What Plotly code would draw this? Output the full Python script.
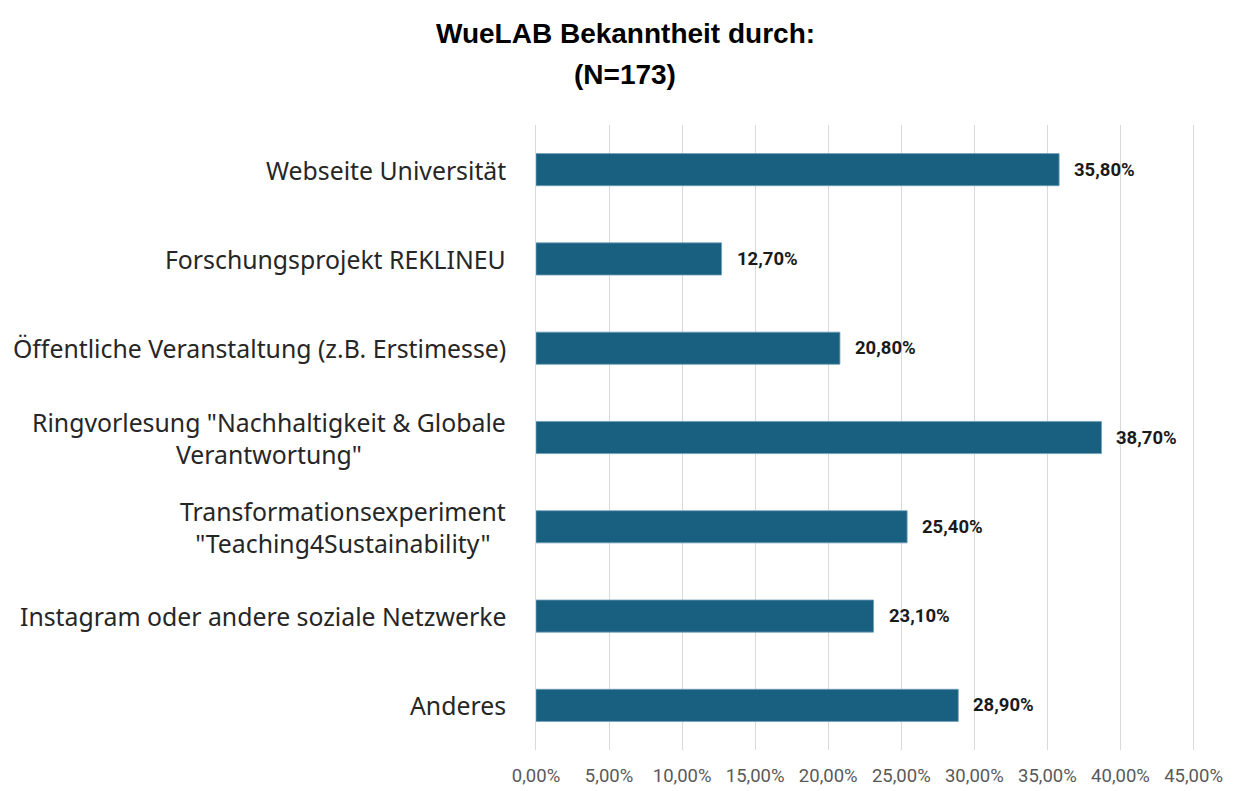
import plotly.graph_objects as go

categories = [
    "Webseite Universität",
    "Forschungsprojekt REKLINEU",
    "Öffentliche Veranstaltung (z.B. Erstimesse)",
    "Ringvorlesung \"Nachhaltigkeit & Globale<br>Verantwortung\"",
    "Transformationsexperiment<br>\"Teaching4Sustainability\"",
    "Instagram oder andere soziale Netzwerke",
    "Anderes",
]
values = [35.8, 12.7, 20.8, 38.7, 25.4, 23.1, 28.9]
value_labels = ["35,80%", "12,70%", "20,80%", "38,70%", "25,40%", "23,10%", "28,90%"]
tick_vals = [0, 5, 10, 15, 20, 25, 30, 35, 40, 45]
tick_text = ["0,00%", "5,00%", "10,00%", "15,00%", "20,00%", "25,00%", "30,00%", "35,00%", "40,00%", "45,00%"]
title_lines = ["WueLAB Bekanntheit durch:", "(N=173)"]

BAR = "#195f80"
W, H = 1244, 791
ML, MR, MT, MB = 528, 57, 117, 49
PW, PH = W - ML - MR, H - MT - MB

fig = go.Figure()
fig.add_trace(go.Bar(
    y=list(range(len(categories))), x=values, orientation="h",
    width=0.36, marker=dict(color=BAR, line=dict(color="#6f9fb8", width=0.8)),
    hoverinfo="skip",
))

ann = []
for i, (c, v, t) in enumerate(zip(categories, values, value_labels)):
    ann.append(dict(x=v, y=i, xref="x", yref="y", text=t, showarrow=False,
                    xanchor="left", xshift=13, yshift=0,
                    font=dict(family="Roboto", size=18.5, color="#1a1a1a", weight="bold")))
    ann.append(dict(x=0, y=i, xref="paper", yref="y", text=c, showarrow=False,
                    xanchor="right", xshift=-28, align="center",
                    font=dict(family="Noto Sans", size=24.8, color="#262626")))

# title lines positioned in figure pixels (converted to plot-relative paper coords)
title_y_px = [25, 67]
title_x_px = 617
for line, yy in zip(title_lines, title_y_px):
    ann.append(dict(x=(title_x_px - ML) / PW, y=(H - MB - yy) / PH, xref="paper", yref="paper",
                    yanchor="middle", xanchor="center", text="<b>%s</b>" % line, showarrow=False,
                    font=dict(family="Liberation Sans", size=28, color="#000000")))

fig.update_layout(
    width=W, height=H,
    margin=dict(l=ML, r=MR, t=MT, b=MB),
    paper_bgcolor="white", plot_bgcolor="white",
    xaxis=dict(range=[0, 45.1], tickvals=tick_vals, ticktext=tick_text, showgrid=True,
               gridcolor="#d9d9d9", gridwidth=1, zeroline=False, showline=False,
               ticks="", ticklabelstandoff=12,
               tickfont=dict(family="Roboto", size=18.5, color="#595959")),
    yaxis=dict(range=[6.5, -0.5], showticklabels=False, showgrid=False, zeroline=False,
               showline=True, linecolor="#d9d9d9", linewidth=1, ticks=""),
    annotations=ann,
    showlegend=False,
)

fig.write_html("out.html")
